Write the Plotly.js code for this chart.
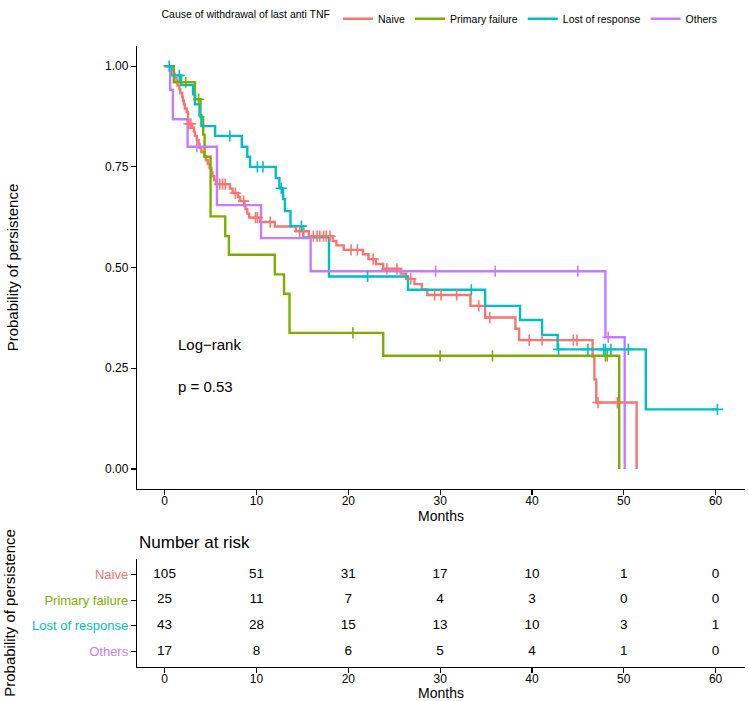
<!DOCTYPE html>
<html>
<head>
<meta charset="utf-8">
<script src="https://cdn.plot.ly/plotly-3.0.1.min.js"></script>
<style>
  body { margin: 0; padding: 0; background: #fff; }
  #plot { width: 749px; height: 701px; }
</style>
</head>
<body>
<div id="plot"></div>
<script>
var groups = ['Naive', 'Primary failure', 'Lost of response', 'Others'];
var colors = ['#F8766D', '#7CAE00', '#00BFC4', '#C77CFF'];

// Kaplan-Meier steps (months, survival)
var naiveTime = [0, 0.9, 1.0, 1.1, 1.3, 1.4, 1.6, 1.7, 1.9, 2.0, 2.1, 2.2, 2.4, 2.55, 3.0, 3.2, 3.3, 3.5, 3.7, 3.8, 4.0,
  4.3, 4.5, 4.7, 4.9, 5.1, 5.2, 5.4, 5.6, 7.1, 7.4, 8.0, 8.2, 8.7, 8.8, 9.0, 9.2, 10.4, 12.0, 14.3, 15.7, 18.3, 18.7,
  19.5, 21.6, 22.2, 23.0, 23.8, 25.7, 26.3, 27.2, 28.0, 28.6, 33.3, 34.9, 38.2, 38.6, 46.6, 46.8, 47.0, 51.4];
var naiveSurv = [1.000, 0.990, 0.981, 0.971, 0.962, 0.952, 0.943, 0.933, 0.924, 0.914, 0.905, 0.895, 0.886, 0.857, 0.847,
  0.837, 0.827, 0.817, 0.807, 0.797, 0.787, 0.777, 0.767, 0.757, 0.747, 0.737, 0.727, 0.717, 0.707, 0.696, 0.685, 0.675,
  0.665, 0.655, 0.645, 0.634, 0.624, 0.613, 0.602, 0.590, 0.578, 0.566, 0.555, 0.544, 0.533, 0.521, 0.509, 0.497, 0.485,
  0.472, 0.459, 0.446, 0.432, 0.405, 0.376, 0.348, 0.320, 0.279, 0.222, 0.165, 0];
var naiveCens = [2.65, 2.85, 6.0, 6.3, 6.6, 7.7, 8.6, 9.9, 10.1, 11.5, 14.7, 15.1, 16.2, 16.6, 16.9, 17.3, 17.6, 18.0,
  20.3, 21.0, 22.7, 24.2, 25.3, 26.8, 29.4, 30.1, 31.8, 34.2, 35.4, 39.7, 41.1, 44.5, 44.9, 47.2, 49.3];

var primaryTime = [0, 1.0, 3.3, 3.9, 4.2, 4.35, 5.0, 6.6, 7.0, 12.0, 13.0, 13.6, 23.8, 49.5];
var primarySurv = [1.0, 0.96, 0.918, 0.874, 0.83, 0.775, 0.627, 0.578, 0.532, 0.483, 0.435, 0.338, 0.281, 0];
var primaryCens = [2.3, 3.7, 20.5, 30.0, 35.7, 48.0, 48.2];

var lostTime = [0, 0.7, 1.8, 3.1, 3.3, 3.8, 4.0, 5.5, 8.4, 9.0, 9.3, 12.1, 12.5, 12.9, 13.1, 13.7, 15.1, 17.9, 26.5,
  34.9, 38.7, 41.1, 42.8, 52.4, 60.2];
var lostSurv = [1.0, 0.977, 0.953, 0.93, 0.905, 0.878, 0.851, 0.827, 0.80, 0.775, 0.75, 0.722, 0.697, 0.67, 0.64,
  0.603, 0.575, 0.478, 0.445, 0.405, 0.37, 0.333, 0.297, 0.148, 0.148];
var lostCens = [0.5, 1.6, 7.1, 10.1, 10.7, 12.7, 14.9, 22.1, 33.4, 42.9, 46.1, 47.8, 48.0, 48.6, 50.5, 60.2];

var othersTime = [0, 0.6, 0.9, 2.5, 5.7, 10.5, 15.9, 48.0, 50.1];
var othersSurv = [1.0, 0.941, 0.868, 0.80, 0.655, 0.573, 0.491, 0.327, 0];
var othersCens = [3.5, 29.5, 36.0, 45.0, 48.3];

// number at risk table
var riskTimes = [0, 10, 20, 30, 40, 50, 60];
var riskNaive = [105, 51, 31, 17, 10, 1, 0];
var riskPrimary = [25, 11, 7, 4, 3, 0, 0];
var riskLost = [43, 28, 15, 13, 10, 3, 1];
var riskOthers = [17, 8, 6, 5, 4, 1, 0];

var curves = [
  [naiveTime, naiveSurv, naiveCens],
  [primaryTime, primarySurv, primaryCens],
  [lostTime, lostSurv, lostCens],
  [othersTime, othersSurv, othersCens]
];
var risks = [riskNaive, riskPrimary, riskLost, riskOthers];

function survAt(t, times, surv) {
  var s = surv[0];
  for (var i = 0; i < times.length; i++) {
    if (times[i] <= t) s = surv[i];
  }
  return s;
}

var font = 'Liberation Sans, Arial, Helvetica, sans-serif';
var data = [];

for (var g = 0; g < groups.length; g++) {
  var c = curves[g];
  data.push({
    x: c[0],
    y: c[1],
    type: 'scatter',
    mode: 'lines',
    line: {shape: 'hv', color: colors[g], width: 2.4},
    name: groups[g],
    legendgroup: groups[g],
    hoverinfo: 'skip',
    xaxis: 'x',
    yaxis: 'y'
  });
}
for (var g = 0; g < groups.length; g++) {
  var c = curves[g];
  var cy = [];
  for (var k = 0; k < c[2].length; k++) {
    cy.push(survAt(c[2][k], c[0], c[1]));
  }
  data.push({
    x: c[2],
    y: cy,
    type: 'scatter',
    mode: 'markers',
    marker: {symbol: 'cross-thin', size: 8, line: {color: colors[g], width: 1.6}},
    showlegend: false,
    legendgroup: groups[g],
    hoverinfo: 'skip',
    xaxis: 'x',
    yaxis: 'y'
  });
}
for (var g = 0; g < groups.length; g++) {
  var yy = [];
  for (var k = 0; k < riskTimes.length; k++) yy.push(groups[g]);
  data.push({
    x: riskTimes,
    y: yy,
    text: risks[g].map(String),
    type: 'scatter',
    mode: 'text',
    textfont: {family: font, size: 13.5, color: '#000'},
    textposition: 'middle center',
    showlegend: false,
    hoverinfo: 'skip',
    xaxis: 'x2',
    yaxis: 'y2'
  });
}

var tickTexts = groups.map(function (name, i) {
  return '<span style="color:' + colors[i] + '">' + name + '</span>';
});

var axisCommon = {
  range: [-3.01, 63.2],
  tickvals: riskTimes,
  showline: true,
  linecolor: '#000',
  linewidth: 1.2,
  ticks: 'outside',
  ticklen: 5,
  tickcolor: '#000',
  tickwidth: 1.2,
  ticklabelstandoff: -5,
  tickfont: {family: font, size: 12, color: '#000'},
  showgrid: false,
  zeroline: false,
  title: {text: 'Months', font: {family: font, size: 14, color: '#000'}, standoff: 1}
};

var layout = {
  width: 749,
  height: 701,
  margin: {l: 137, r: 4, t: 35, b: 34},
  paper_bgcolor: '#fff',
  plot_bgcolor: '#fff',
  font: {family: font, color: '#000'},
  showlegend: true,
  legend: {
    orientation: 'h',
    x: 0.5,
    xanchor: 'center',
    y: 1.044,
    yanchor: 'middle',
    font: {family: font, size: 10.5, color: '#000'},
    title: {text: 'Cause of withdrawal of last anti TNF', side: 'left', font: {family: font, size: 10.5, color: '#000'}},
    traceorder: 'normal',
    itemwidth: 30
  },
  xaxis: Object.assign({}, axisCommon, {domain: [0, 1], anchor: 'y'}),
  yaxis: {
    domain: [0.2864, 1],
    anchor: 'x',
    range: [-0.05, 1.05],
    tickvals: [0, 0.25, 0.5, 0.75, 1],
    ticktext: ['0.00', '0.25', '0.50', '0.75', '1.00'],
    showline: true,
    linecolor: '#000',
    linewidth: 1.2,
    ticks: 'outside',
    ticklen: 5,
    tickcolor: '#000',
    tickwidth: 1.2,
    tickfont: {family: font, size: 12, color: '#000'},
    showgrid: false,
    zeroline: false,
    title: {text: 'Probability of persistence', font: {family: font, size: 15, color: '#000'}, standoff: 82}
  },
  xaxis2: Object.assign({}, axisCommon, {domain: [0, 1], anchor: 'y2'}),
  yaxis2: {
    domain: [0, 0.174],
    anchor: 'x2',
    type: 'category',
    categoryorder: 'array',
    categoryarray: groups,
    range: [3.6, -0.6],
    tickmode: 'array',
    tickvals: groups,
    ticktext: tickTexts,
    showline: true,
    linecolor: '#000',
    linewidth: 1.2,
    ticks: 'outside',
    ticklen: 5,
    tickcolor: '#000',
    tickwidth: 1.2,
    tickfont: {family: font, size: 13, color: '#000'},
    showgrid: false,
    zeroline: false,
    title: {text: 'Probability of persistence', font: {family: font, size: 15, color: '#000'}, standoff: 12}
  },
  annotations: [
    {
      text: 'Log\u2212rank', x: 1.2, y: 0.31, xref: 'x', yref: 'y',
      xanchor: 'left', yanchor: 'middle', showarrow: false,
      font: {family: font, size: 15, color: '#000'}
    },
    {
      text: 'p = 0.53', x: 1.2, y: 0.205, xref: 'x', yref: 'y',
      xanchor: 'left', yanchor: 'middle', showarrow: false,
      font: {family: font, size: 15, color: '#000'}
    },
    {
      text: 'Number at risk', x: 0, y: 0.2, xref: 'paper', yref: 'paper',
      xanchor: 'left', yanchor: 'middle', showarrow: false,
      font: {family: font, size: 17, color: '#000'}
    }
  ]
};

Plotly.newPlot('plot', data, layout, {displayModeBar: false, staticPlot: true});
</script>
</body>
</html>
